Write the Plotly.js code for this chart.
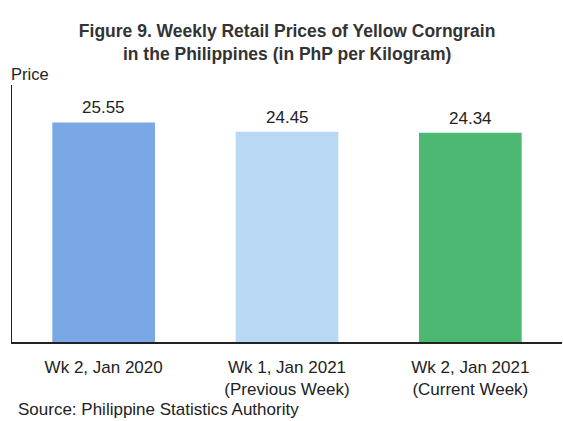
<!DOCTYPE html>
<html><head><meta charset="utf-8">
<script src="https://cdn.plot.ly/plotly-3.0.1.min.js"></script>
<style>html,body{margin:0;padding:0;background:#fff;}#chart{width:563px;height:421px;}</style>
</head><body><div id="chart"></div>
<script>
const categories = ["Wk 2, Jan 2020", "Wk 1, Jan 2021<br>(Previous Week)", "Wk 2, Jan 2021<br>(Current Week)"];
const prices = [25.55, 24.45, 24.34];
const barColors = ["#7aa8e4", "#b8d8f3", "#4db872"];
const valueLabels = ["25.55", "24.45", "24.34"];

const font = "Liberation Sans, Arial, sans-serif";
const trace = {
  type: "bar", x: categories, y: prices,
  marker: {color: barColors, line: {width: 0}},
  width: 0.56, hoverinfo: "none"
};
const annotations = categories.map((c, i) => ({
  x: c, y: prices[i], text: valueLabels[i], showarrow: false,
  yanchor: "bottom", yshift: 3, font: {family: font, size: 17, color: "#222"}
}));
annotations.push({
  xref: "paper", yref: "paper", x: 0, y: 1, xanchor: "left", yanchor: "bottom",
  xshift: -3, yshift: 0, text: "Price", showarrow: false,
  font: {family: font, size: 16.5, color: "#222"}
});
annotations.push({
  xref: "paper", yref: "paper", x: 0, y: 0, xanchor: "left", yanchor: "top",
  xshift: 4, yshift: -56, text: "Source: Philippine Statistics Authority", showarrow: false,
  font: {family: font, size: 17, color: "#222"}
});
const layout = {
  width: 563, height: 421,
  margin: {l: 12, r: 1, t: 85, b: 79},
  paper_bgcolor: "#ffffff", plot_bgcolor: "#ffffff",
  title: {text: "<b>Figure 9. Weekly Retail Prices of Yellow Corngrain<br>in the Philippines (in PhP per Kilogram)</b>",
    x: 0.51, xanchor: "center", y: 0.912, yanchor: "top",
    font: {family: font, size: 17.5, color: "#333"}},
  xaxis: {showline: true, linecolor: "#222", linewidth: 1.5, ticks: "", showgrid: false,
    ticklabelstandoff: 9,
    tickfont: {family: font, size: 17, color: "#222"}, fixedrange: true},
  yaxis: {range: [0, 29.9], showline: true, linecolor: "#222", linewidth: 1.5, showgrid: false,
    zeroline: false, showticklabels: false, ticks: "", fixedrange: true},
  annotations: annotations,
  showlegend: false
};
Plotly.newPlot("chart", [trace], layout, {displayModeBar: false, staticPlot: true});
</script></body></html>
